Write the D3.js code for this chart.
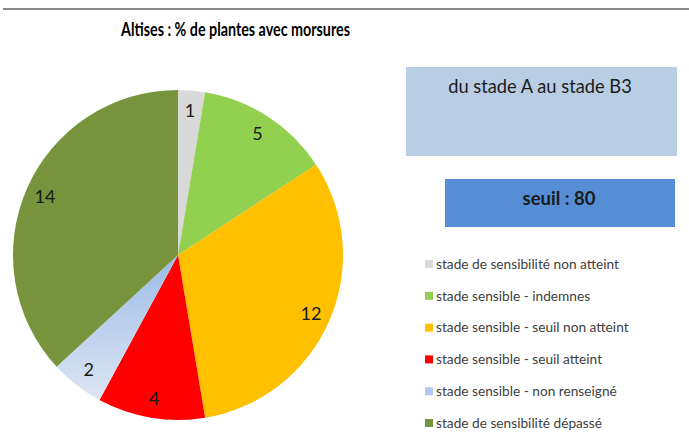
<!DOCTYPE html>
<html>
<meta charset=utf-8>
<head>
  <style>
    body { margin: 0; background: #fff; }
    text { font-family: Lato, "Open Sans", sans-serif; }
  </style>
</head>
<body>
  <svg id="canvas" width="689" height="443"></svg>
  <script src="https://d3js.org/d3.v7.min.js"></script>
  <script>

  var categories = [
    'stade de sensibilité non atteint',
    'stade sensible - indemnes',
    'stade sensible - seuil non atteint',
    'stade sensible - seuil atteint',
    'stade sensible - non renseigné',
    'stade de sensibilité dépassé'
  ]
  var values = [1, 5, 12, 4, 2, 14]
  var colors = ['#d9d9d9', '#92d050', '#ffc000', '#ff0000', 'url(#blueGrad)', '#77933c']
  var legendColors = ['#d9d9d9', '#92d050', '#ffc000', '#ff0000', '#b4c8ea', '#77933c']

  var title = 'Altises : % de plantes avec morsures'
  var stageText = 'du stade A au stade B3'
  var thresholdText = 'seuil : 80'

  var svg = d3.select('#canvas')

  var defs = svg.append('defs')
  var grad = defs.append('linearGradient')
    .attr('id', 'blueGrad')
    .attr('x1', 0).attr('y1', 0).attr('x2', 0).attr('y2', 1)
  grad.append('stop').attr('offset', '0%').attr('stop-color', '#9cbbe6')
  grad.append('stop').attr('offset', '100%').attr('stop-color', '#dde6f4')

  // top frame line
  svg.append('line')
    .attr('x1', 3).attr('x2', 689)
    .attr('y1', 9).attr('y2', 9)
    .attr('stroke', '#8a8a8a')
    .attr('stroke-width', 2)

  svg.append('text')
    .attr('x', 121)
    .attr('y', 36)
    .attr('font-size', 18.5)
    .attr('font-weight', 'bold')
    .attr('textLength', 229)
    .attr('lengthAdjust', 'spacingAndGlyphs')
    .attr('fill', '#000')
    .text(title)

  // pie
  var cx = 178, cy = 255, r = 165
  var pie = d3.pie().sort(null).value(function(d) { return d })
  var arc = d3.arc().innerRadius(0).outerRadius(r)
  var labelArc = d3.arc().innerRadius(r * 0.88).outerRadius(r * 0.88)

  var g = svg.append('g').attr('transform', 'translate(' + cx + ',' + cy + ')')
  var slices = pie(values)

  g.selectAll('path')
    .data(slices)
    .enter()
    .append('path')
    .attr('d', arc)
    .attr('fill', function(d, i) { return colors[i] })

  g.selectAll('text')
    .data(slices)
    .enter()
    .append('text')
    .attr('transform', function(d) { return 'translate(' + labelArc.centroid(d) + ')' })
    .attr('text-anchor', 'middle')
    .attr('dy', '0.35em')
    .attr('font-size', 18)
    .attr('fill', '#1a1a1a')
    .text(function(d) { return d.data })

  // stage box
  svg.append('rect')
    .attr('x', 406).attr('y', 67)
    .attr('width', 271).attr('height', 89)
    .attr('fill', '#b9cde5')
  svg.append('text')
    .attr('x', 540).attr('y', 93)
    .attr('text-anchor', 'middle')
    .attr('font-size', 18.3)
    .attr('fill', '#1a1a1a')
    .text(stageText)

  // threshold box
  svg.append('rect')
    .attr('x', 445).attr('y', 179)
    .attr('width', 230).attr('height', 48)
    .attr('fill', '#558ed5')
  svg.append('text')
    .attr('x', 559).attr('y', 205)
    .attr('text-anchor', 'middle')
    .attr('font-size', 18.5)
    .attr('font-weight', 'bold')
    .attr('fill', '#1a1a1a')
    .text(thresholdText)

  // legend
  var legendY = d3.scalePoint()
    .domain(categories)
    .range([264, 423])

  var legend = svg.append('g')
    .selectAll('g')
    .data(categories)
    .enter()
    .append('g')
    .attr('transform', function(d) { return 'translate(425,' + legendY(d) + ')' })

  legend.append('rect')
    .attr('x', 0).attr('y', -4)
    .attr('width', 8).attr('height', 8)
    .attr('fill', function(d, i) { return legendColors[i] })

  legend.append('text')
    .attr('x', 11)
    .attr('dy', '0.35em')
    .attr('font-size', 13.7)
    .attr('fill', '#404040')
    .text(function(d) { return d })

  </script>
</body>
</html>
